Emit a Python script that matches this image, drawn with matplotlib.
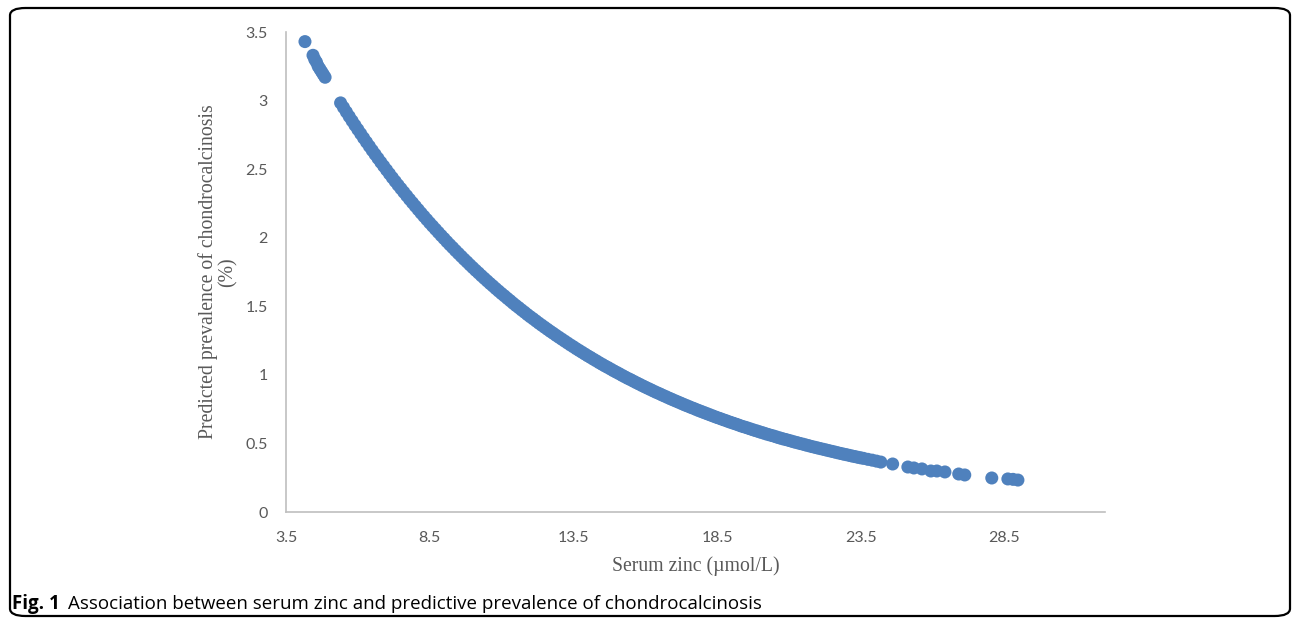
import matplotlib
matplotlib.use("Agg")
import matplotlib.pyplot as plt
from matplotlib.patches import FancyBboxPatch

# serum zinc (umol/L) and predicted prevalence (%)
# first few isolated points at low zinc
zinc_low = [4.16, 4.44, 4.50, 4.56, 4.62, 4.68, 4.74, 4.80, 4.86]
prev_low = [3.43, 3.33, 3.30, 3.28, 3.25, 3.23, 3.21, 3.19, 3.17]

# the dense part of the cloud
zinc_mid = [
    5.4, 5.5, 5.6, 5.7, 5.8, 5.9, 6.0, 6.1, 6.2, 6.3, 6.4, 6.5, 6.6, 6.7, 6.8, 6.9,
    7.0, 7.1, 7.2, 7.3, 7.4, 7.5, 7.6, 7.7, 7.8, 7.9, 8.0, 8.1, 8.2, 8.3, 8.4, 8.5,
    8.6, 8.7, 8.8, 8.9, 9.0, 9.1, 9.2, 9.3, 9.4, 9.5, 9.6, 9.7, 9.8, 9.9, 10.0, 10.1,
    10.2, 10.3, 10.4, 10.5, 10.6, 10.7, 10.8, 10.9, 11.0, 11.1, 11.2, 11.3, 11.4, 11.5,
    11.6, 11.7, 11.8, 11.9, 12.0, 12.1, 12.2, 12.3, 12.4, 12.5, 12.6, 12.7, 12.8, 12.9,
    13.0, 13.1, 13.2, 13.3, 13.4, 13.5, 13.6, 13.7, 13.8, 13.9, 14.0, 14.1, 14.2, 14.3,
    14.4, 14.5, 14.6, 14.7, 14.8, 14.9, 15.0, 15.1, 15.2, 15.3, 15.4, 15.5, 15.6, 15.7,
    15.8, 15.9, 16.0, 16.1, 16.2, 16.3, 16.4, 16.5, 16.6, 16.7, 16.8, 16.9, 17.0, 17.1,
    17.2, 17.3, 17.4, 17.5, 17.6, 17.7, 17.8, 17.9, 18.0, 18.1, 18.2, 18.3, 18.4, 18.5,
    18.6, 18.7, 18.8, 18.9, 19.0, 19.1, 19.2, 19.3, 19.4, 19.5, 19.6, 19.7, 19.8, 19.9,
    20.0, 20.1, 20.2, 20.3, 20.4, 20.5, 20.6, 20.7, 20.8, 20.9, 21.0, 21.1, 21.2, 21.3,
    21.4, 21.5, 21.6, 21.7, 21.8, 21.9, 22.0, 22.1, 22.2, 22.3, 22.4, 22.5, 22.6, 22.7,
    22.8, 22.9, 23.0, 23.1, 23.2, 23.3, 23.4, 23.5, 23.6, 23.75, 23.9, 24.05, 24.2,
]
prev_mid = [
    2.983, 2.950, 2.917, 2.884, 2.852, 2.820, 2.789, 2.758, 2.727, 2.697, 2.667, 2.637,
    2.608, 2.579, 2.550, 2.522, 2.494, 2.466, 2.438, 2.411, 2.384, 2.358, 2.332, 2.306,
    2.280, 2.255, 2.230, 2.205, 2.180, 2.156, 2.132, 2.108, 2.085, 2.062, 2.039, 2.016,
    1.994, 1.971, 1.949, 1.928, 1.906, 1.885, 1.864, 1.843, 1.823, 1.802, 1.782, 1.762,
    1.743, 1.723, 1.704, 1.685, 1.666, 1.648, 1.629, 1.611, 1.593, 1.576, 1.558, 1.541,
    1.523, 1.506, 1.490, 1.473, 1.457, 1.440, 1.424, 1.409, 1.393, 1.377, 1.362, 1.347,
    1.332, 1.317, 1.303, 1.288, 1.274, 1.260, 1.246, 1.232, 1.218, 1.205, 1.191, 1.178,
    1.165, 1.152, 1.139, 1.127, 1.114, 1.102, 1.089, 1.077, 1.065, 1.054, 1.042, 1.030,
    1.019, 1.008, 0.996, 0.985, 0.974, 0.964, 0.953, 0.942, 0.932, 0.921, 0.911, 0.901,
    0.891, 0.881, 0.871, 0.862, 0.852, 0.843, 0.833, 0.824, 0.815, 0.806, 0.797, 0.788,
    0.779, 0.771, 0.762, 0.754, 0.745, 0.737, 0.729, 0.721, 0.713, 0.705, 0.697, 0.689,
    0.682, 0.674, 0.667, 0.659, 0.652, 0.645, 0.638, 0.630, 0.623, 0.617, 0.610, 0.603,
    0.596, 0.590, 0.583, 0.577, 0.570, 0.564, 0.558, 0.552, 0.545, 0.539, 0.533, 0.528,
    0.522, 0.516, 0.510, 0.505, 0.499, 0.494, 0.488, 0.483, 0.477, 0.472, 0.467, 0.462,
    0.457, 0.452, 0.447, 0.442, 0.437, 0.432, 0.427, 0.422, 0.418, 0.413, 0.408, 0.404,
    0.399, 0.395, 0.391, 0.384, 0.378, 0.371, 0.364,
]

# sparse points at high zinc
zinc_high = [24.61, 25.14, 25.35, 25.63, 25.94, 26.15, 26.43, 26.91, 27.12,
             28.06, 28.62, 28.80, 28.97]
prev_high = [0.350, 0.328, 0.321, 0.314, 0.299, 0.299, 0.292, 0.277, 0.270,
             0.248, 0.241, 0.238, 0.233]

x_ticks = [3.5, 8.5, 13.5, 18.5, 23.5, 28.5]
y_ticks = [0, 0.5, 1, 1.5, 2, 2.5, 3, 3.5]
y_tick_labels = ["0", "0.5", "1", "1.5", "2", "2.5", "3", "3.5"]

zinc = zinc_low + zinc_mid + zinc_high
prevalence = prev_low + prev_mid + prev_high

W, H = 1292, 620
fig = plt.figure(figsize=(W / 100, H / 100), dpi=100)
fig.patch.set_facecolor("white")

# rounded frame around the whole figure
frame = FancyBboxPatch((10 / W, 4 / H), 1280 / W, 608 / H,
                       boxstyle="round,pad=0,rounding_size=0.012",
                       transform=fig.transFigure, fill=False,
                       edgecolor="black", linewidth=1.6)
fig.patches.append(frame)

ax = fig.add_axes([286 / W, 108 / H, 819 / W, 480 / H])
ax.scatter(zinc, prevalence, s=88, color="#4F81BD", edgecolors="none",
           zorder=3, clip_on=False)

ax.set_xlim(3.5, 32.0)
ax.set_ylim(0, 3.5)
ax.set_xticks(x_ticks)
ax.set_xticklabels([f"{v:g}" for v in x_ticks])
ax.set_yticks(y_ticks)
ax.set_yticklabels(y_tick_labels)

for side in ["top", "right"]:
    ax.spines[side].set_visible(False)
for side in ["left", "bottom"]:
    ax.spines[side].set_color("#BFBFBF")
    ax.spines[side].set_linewidth(1.2)

ax.tick_params(axis="both", length=0, labelcolor="#595959", labelsize=11.5)
ax.tick_params(axis="x", pad=14)
ax.tick_params(axis="y", pad=13)
for lab in ax.get_xticklabels() + ax.get_yticklabels():
    lab.set_fontfamily("Lato")

ax.set_xlabel("Serum zinc (\u00b5mol/L)", family="Liberation Serif",
              fontsize=14.2, color="#595959", labelpad=8)
ax.set_ylabel("Predicted prevalence of chondrocalcinosis\n(%)",
              family="Liberation Serif", fontsize=14.2, color="#595959",
              labelpad=6, linespacing=1.0)

fig.text(12 / W, 1 - 604 / H, "Fig. 1", family="Open Sans", fontsize=13.5,
         fontweight="bold", va="center", ha="left")
fig.text(68 / W, 1 - 604 / H,
         "Association between serum zinc and predictive prevalence of chondrocalcinosis",
         family="Open Sans", fontsize=13.5, va="center", ha="left")

fig.savefig("out.png", dpi=100, facecolor="white")
